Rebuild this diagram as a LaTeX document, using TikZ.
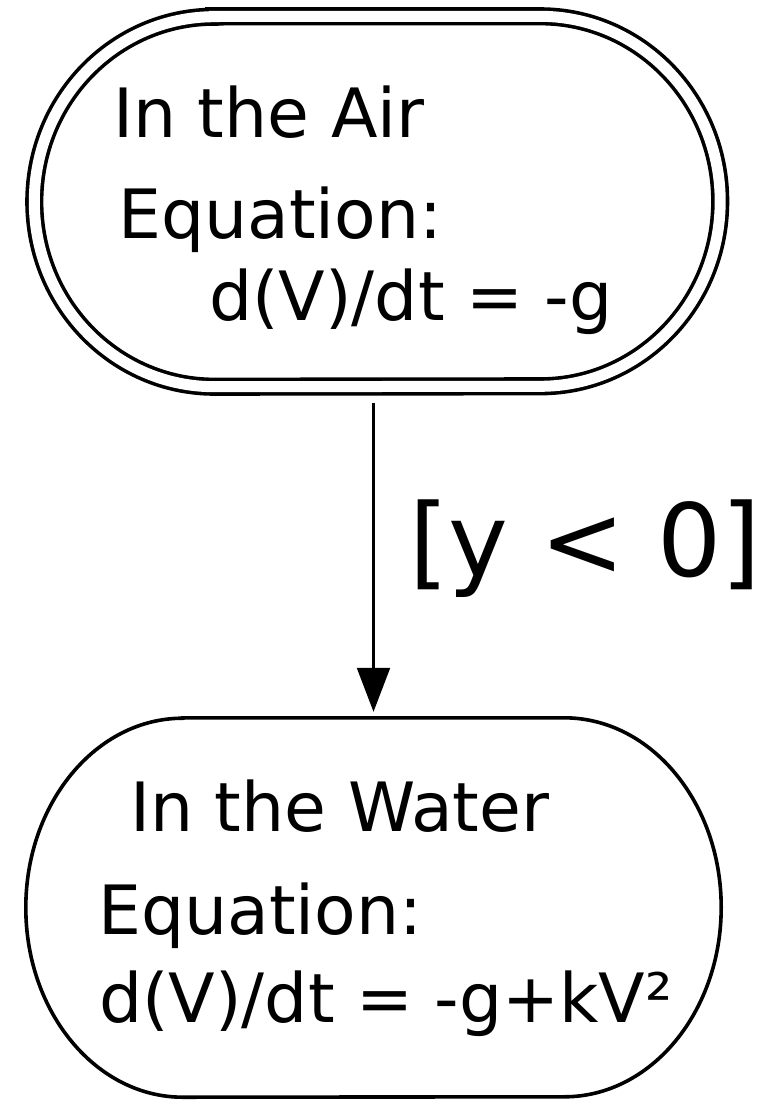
\documentclass[tikz,border=0pt]{standalone}
\usepackage{fontspec}
\setmainfont{DejaVu Sans}
\usepackage{xcolor}
\definecolor{inkBlack}{HTML}{000000}
\usepackage{tikz}
\usetikzlibrary{
    arrows.meta,
    positioning,
    calc
}
% outline of a state: flat top and bottom, half-ellipse ends
\newcommand{\drawstadium}[4]{% #1 style, #2 node, #3 x radius, #4 y radius
    \draw[#1] ([xshift=#3pt]#2.north west) -- ([xshift=-#3pt]#2.north east)
        arc[start angle=90, end angle=-90, x radius=#3pt, y radius=#4pt]
        -- ([xshift=#3pt]#2.south west)
        arc[start angle=270, end angle=90, x radius=#3pt, y radius=#4pt] -- cycle;}
\tikzset{
    % Empty box that carries the state's size
    state area/.style={
        rectangle,
        inner sep=0pt,
        draw=none,
    },
    % Plain outline
    state line/.style={
        draw=inkBlack,
        line width=3.6pt,
    },
    % Double outline for the initial state
    state double/.style={
        state line,
        double=white,
        double distance=11pt,
    },
    % State text, one node per line
    state text/.style={
        anchor=base west,
        inner sep=0pt,
        text=inkBlack,
        font=\fontsize{68}{80}\selectfont,
    },
    % Transition arrow
    arrow/.style={
        -{Triangle[length=44pt, width=33pt]},
        line width=2.2pt,
        draw=inkBlack,
    },
    % Guard label
    guard label/.style={
        anchor=base west,
        inner sep=0pt,
        text=inkBlack,
        font=\fontsize{101}{120}\selectfont,
    },
}

\begin{document}
\begin{tikzpicture}[x=1pt, y=1pt]
    \useasboundingbox (0,0) rectangle (779,-1103);

    \node (air) [state area, minimum width=685.5pt, minimum height=370pt] at (377.25,-201.5) {};
    \node (water) [state area, minimum width=695pt, minimum height=379pt] at (373.5,-907.5) {};

    \drawstadium{state double}{air}{180}{185}
    \drawstadium{state line}{water}{157}{189.5}

    \node (air1) [state text] at (113,-137) {In the Air};
    \node (air2) [state text] at (118,-238) {Equation:};
    \node (air3) [state text] at (209,-320) {d(V)/dt = -g};

    \node (water1) [state text] at (130,-831) {In the Water};
    \node (water2) [state text] at (98,-934) {Equation:};
    \node (water3) [state text] at (99,-1022) {d(V)/dt = -g+kV²};

    \draw [arrow, shorten <=16.5pt, shorten >=6pt] (water.north |- air.south) -- (water.north);
    \node (guard) [guard label] at (409,-576) {[y < 0]};
\end{tikzpicture}
\end{document}
